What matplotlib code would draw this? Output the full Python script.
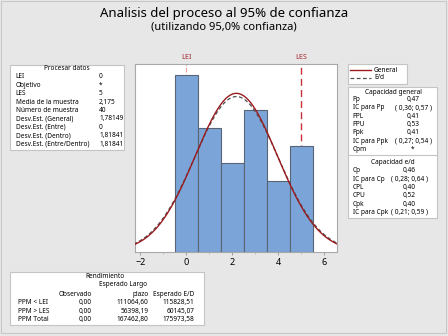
import numpy as np
import matplotlib
matplotlib.use('Agg')
import matplotlib.pyplot as plt
from matplotlib.patches import Rectangle
from matplotlib.lines import Line2D

plt.rcParams['font.family'] = ['Noto Sans', 'DejaVu Sans']

# data
bins = [0, 1, 2, 3, 4, 5]
counts = [10, 7, 5, 8, 4, 6]
lei = 0
les = 5
mean = 2.175
sd_general = 1.78149
sd_within = 1.81841
n = 40

proc_labels = ['LEI', 'Objetivo', 'LES', 'Media de la muestra', 'Número de muestra',
               'Desv.Est. (General)', 'Desv.Est. (Entre)', 'Desv.Est. (Dentro)',
               'Desv.Est. (Entre/Dentro)']
proc_values = ['0', '*', '5', '2,175', '40', '1,78149', '0', '1,81841', '1,81841']

gen_labels = ['Pp', 'IC para Pp', 'PPL', 'PPU', 'Ppk', 'IC para Ppk', 'Cpm']
gen_values = ['0,47', '( 0,36; 0,57 )', '0,41', '0,53', '0,41', '( 0,27; 0,54 )', '*']
ed_labels = ['Cp', 'IC para Cp', 'CPL', 'CPU', 'Cpk', 'IC para Cpk']
ed_values = ['0,46', '( 0,28; 0,64 )', '0,40', '0,52', '0,40', '( 0,21; 0,59 )']

rend_rows = ['PPM < LEI', 'PPM > LES', 'PPM Total']
rend_obs = ['0,00', '0,00', '0,00']
rend_lp = ['111064,60', '56398,19', '167462,80']
rend_ed = ['115828,51', '60145,07', '175973,58']

W, H = 448, 336
fig = plt.figure(figsize=(W / 100, H / 100), dpi=100)
fig.patch.set_facecolor('#e7e7e7')

FS = 4.7


def px(x, y):
    return x / W, 1 - y / H


def box(x0, y0, x1, y1):
    fig.patches.append(Rectangle(px(x0, y1), (x1 - x0) / W, (y1 - y0) / H,
                                 transform=fig.transFigure, facecolor='white',
                                 edgecolor='#c4c4c4', lw=0.8, zorder=0))


def txt(x, y, s, ha='left', size=FS, **kw):
    fig.text(*px(x, y), s, ha=ha, va='center', fontsize=size, **kw)


# outer frame
fig.patches.append(Rectangle(px(1, 333), 445 / W, 332 / H, transform=fig.transFigure,
                             facecolor='none', edgecolor='#c8c8c8', lw=0.8))

txt(224, 13, 'Analisis del proceso al 95% de confianza', ha='center', size=9.5)
txt(224, 27, '(utilizando 95,0% confianza)', ha='center', size=8)

# main plot
ax = fig.add_axes([135.3 / W, 1 - 251.7 / H, (337 - 135.3) / W, (251.7 - 64.3) / H])
ax.bar(bins, counts, width=1, color='#7ba5d8', edgecolor='#5a6475', lw=0.8, zorder=2)
xs = np.linspace(-2.3, 6.6, 300)
pdf_g = n / (sd_general * np.sqrt(2 * np.pi)) * np.exp(-0.5 * ((xs - mean) / sd_general) ** 2)
pdf_w = n / (sd_within * np.sqrt(2 * np.pi)) * np.exp(-0.5 * ((xs - mean) / sd_within) ** 2)
ax.plot(xs, pdf_w, color='#505050', ls=(0, (3, 2)), lw=0.9, zorder=3)
ax.plot(xs, pdf_g, color='#9b1b1f', lw=1.0, zorder=4)
ax.axvline(lei, color='#e89a9a', ls=(0, (4, 2)), lw=0.8, zorder=1)
ax.axvline(les, color='#c8323a', ls=(0, (5, 3)), lw=1.0, zorder=1)
ax.set_xlim(-2.22, 6.55)
ax.set_ylim(0, 10.6)
ax.set_xticks([-2, 0, 2, 4, 6])
ax.set_xticks([-1, 1, 3, 5], minor=True)
ax.set_yticks([])
ax.tick_params(axis='x', labelsize=6.5, length=2.5, width=0.6, color='#909090', pad=2)
ax.tick_params(axis='x', which='minor', length=1.5, width=0.5, color='#b0b0b0')
for s in ax.spines.values():
    s.set_color('#a8a8a8')
    s.set_linewidth(0.8)

txt(186.3, 57.5, 'LEI', ha='center', size=5.2, color='#a3262d')
txt(301.5, 57.5, 'LES', ha='center', size=5.2, color='#a3262d')

# Procesar datos
box(10, 65, 124, 150)
txt(67, 69, 'Procesar datos', ha='center')
for i, (lab, val) in enumerate(zip(proc_labels, proc_values)):
    y = 76.7 + i * 8.45
    txt(15.5, y, lab)
    txt(99, y, val)

# legend
box(348, 64, 407, 84)
fig.lines.append(Line2D([350 / W, 370.5 / W], [1 - 70 / H] * 2, transform=fig.transFigure,
                        color='#9b1b1f', lw=1.0))
fig.lines.append(Line2D([350 / W, 370.5 / W], [1 - 77.7 / H] * 2, transform=fig.transFigure,
                        color='#505050', lw=0.9, ls=(0, (3, 2))))
txt(374, 70, 'General')
txt(374, 77.7, 'E/d')

# capacidad
box(348, 87, 436.5, 217.5)
txt(393, 92.3, 'Capacidad general', ha='center')
for i, (lab, val) in enumerate(zip(gen_labels, gen_values)):
    y = 99.5 + i * 8.35
    txt(352.7, y, lab)
    txt(413, y, val, ha='center')
fig.lines.append(Line2D([348 / W, 436.5 / W], [1 - 155.3 / H] * 2, transform=fig.transFigure,
                        color='#c4c4c4', lw=0.8))
txt(393, 162.3, 'Capacidad e/d', ha='center')
for i, (lab, val) in enumerate(zip(ed_labels, ed_values)):
    y = 170.7 + i * 8.35
    txt(352.7, y, lab)
    txt(409, y, val, ha='center')

# Rendimiento
box(10, 272, 204, 325)
txt(104.5, 276, 'Rendimiento', ha='center')
txt(123, 284.7, 'Esperado Largo', ha='center')
txt(92, 294.3, 'Observado', ha='right')
txt(148.3, 294.3, 'plazo', ha='right')
txt(194.3, 294.3, 'Esperado E/D', ha='right')
for i in range(len(rend_rows)):
    y = 302.7 + i * 8.35
    txt(18.3, y, rend_rows[i])
    txt(92, y, rend_obs[i], ha='right')
    txt(148.3, y, rend_lp[i], ha='right')
    txt(194.3, y, rend_ed[i], ha='right')

fig.savefig('out.png', dpi=100, facecolor=fig.get_facecolor())
